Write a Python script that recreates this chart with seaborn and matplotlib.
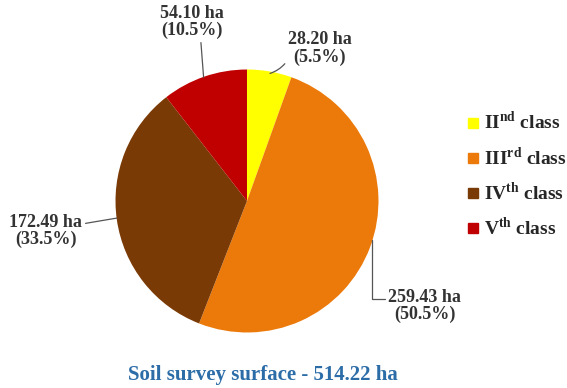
import matplotlib
matplotlib.use('Agg')
import matplotlib.pyplot as plt
from matplotlib.lines import Line2D
import seaborn as sns

# data
classes = ['II', 'III', 'IV', 'V']
suffixes = ['nd', 'rd', 'th', 'th']
areas = [28.20, 259.43, 172.49, 54.10]
shares = [5.5, 50.5, 33.5, 10.5]
total = 514.22
colors = ['#FFFF00', '#EC7A0B', '#7A3A06', '#C00000']

sns.set_theme(style='white')
plt.rcParams['font.family'] = ['Liberation Serif', 'DejaVu Serif']
plt.rcParams['mathtext.fontset'] = 'custom'
plt.rcParams['mathtext.rm'] = 'Liberation Serif:bold'
plt.rcParams['mathtext.bf'] = 'Liberation Serif:bold'

fig = plt.figure(figsize=(5.67, 3.88), dpi=100)
ax = fig.add_axes([0.4356 - 0.2319, 0.482 - 0.339, 0.4638, 0.678])

wedges, _ = ax.pie(areas, colors=colors, startangle=90, counterclock=False,
                   wedgeprops=dict(linewidth=0))
ax.set_aspect('equal')
ax.set_xlim(-1, 1)
ax.set_ylim(-1, 1)

lab_kw = dict(fontsize=13, fontweight='bold', color='#333333',
              ha='center', va='center', linespacing=1.0)
line_kw = dict(arrowstyle='-', color='#555555', lw=0.9, shrinkA=0, shrinkB=0)
labels = ['%.2f ha\n(%.1f%%)' % (a, s) for a, s in zip(areas, shares)]

# II
ax.annotate(labels[0], xy=(0.175, 0.97), xytext=(0.555, 1.16),
            arrowprops=dict(line_kw, connectionstyle='arc3,rad=-0.2',
                            relpos=(0.02, 0.25)), **lab_kw)
# III
ax.annotate(labels[1], xy=(0.95, -0.30), xytext=(1.35, -0.80),
            arrowprops=dict(line_kw, connectionstyle='angle,angleA=180,angleB=90,rad=0',
                            relpos=(-0.03, 0.72)), **lab_kw)
# IV
ax.annotate(labels[2], xy=(-0.99, -0.13), xytext=(-1.53, -0.23),
            arrowprops=dict(line_kw, relpos=(1.02, 0.72)), **lab_kw)
# V
ax.annotate(labels[3], xy=(-0.33, 0.94), xytext=(-0.42, 1.36),
            arrowprops=dict(line_kw, relpos=(0.64, 0.0)), **lab_kw)

handles = [Line2D([], [], marker='s', linestyle='none', markersize=6.5,
                  markerfacecolor=c, markeredgecolor=c) for c in colors]
legend_labels = [r'%s$^{\mathrm{%s}}$ class' % (c, s) for c, s in zip(classes, suffixes)]
fig.legend(handles, legend_labels, loc='center left', bbox_to_anchor=(0.79, 0.549),
           frameon=False, handletextpad=0.15, labelspacing=0.65, handlelength=0.8,
           prop=dict(weight='bold', size=14))

fig.text(0.464, 0.033, 'Soil survey surface - %.2f ha' % total, ha='center',
         va='center', fontsize=15, fontweight='bold', color='#2C6DA8')

fig.savefig('out.png', dpi=100, facecolor='white')
